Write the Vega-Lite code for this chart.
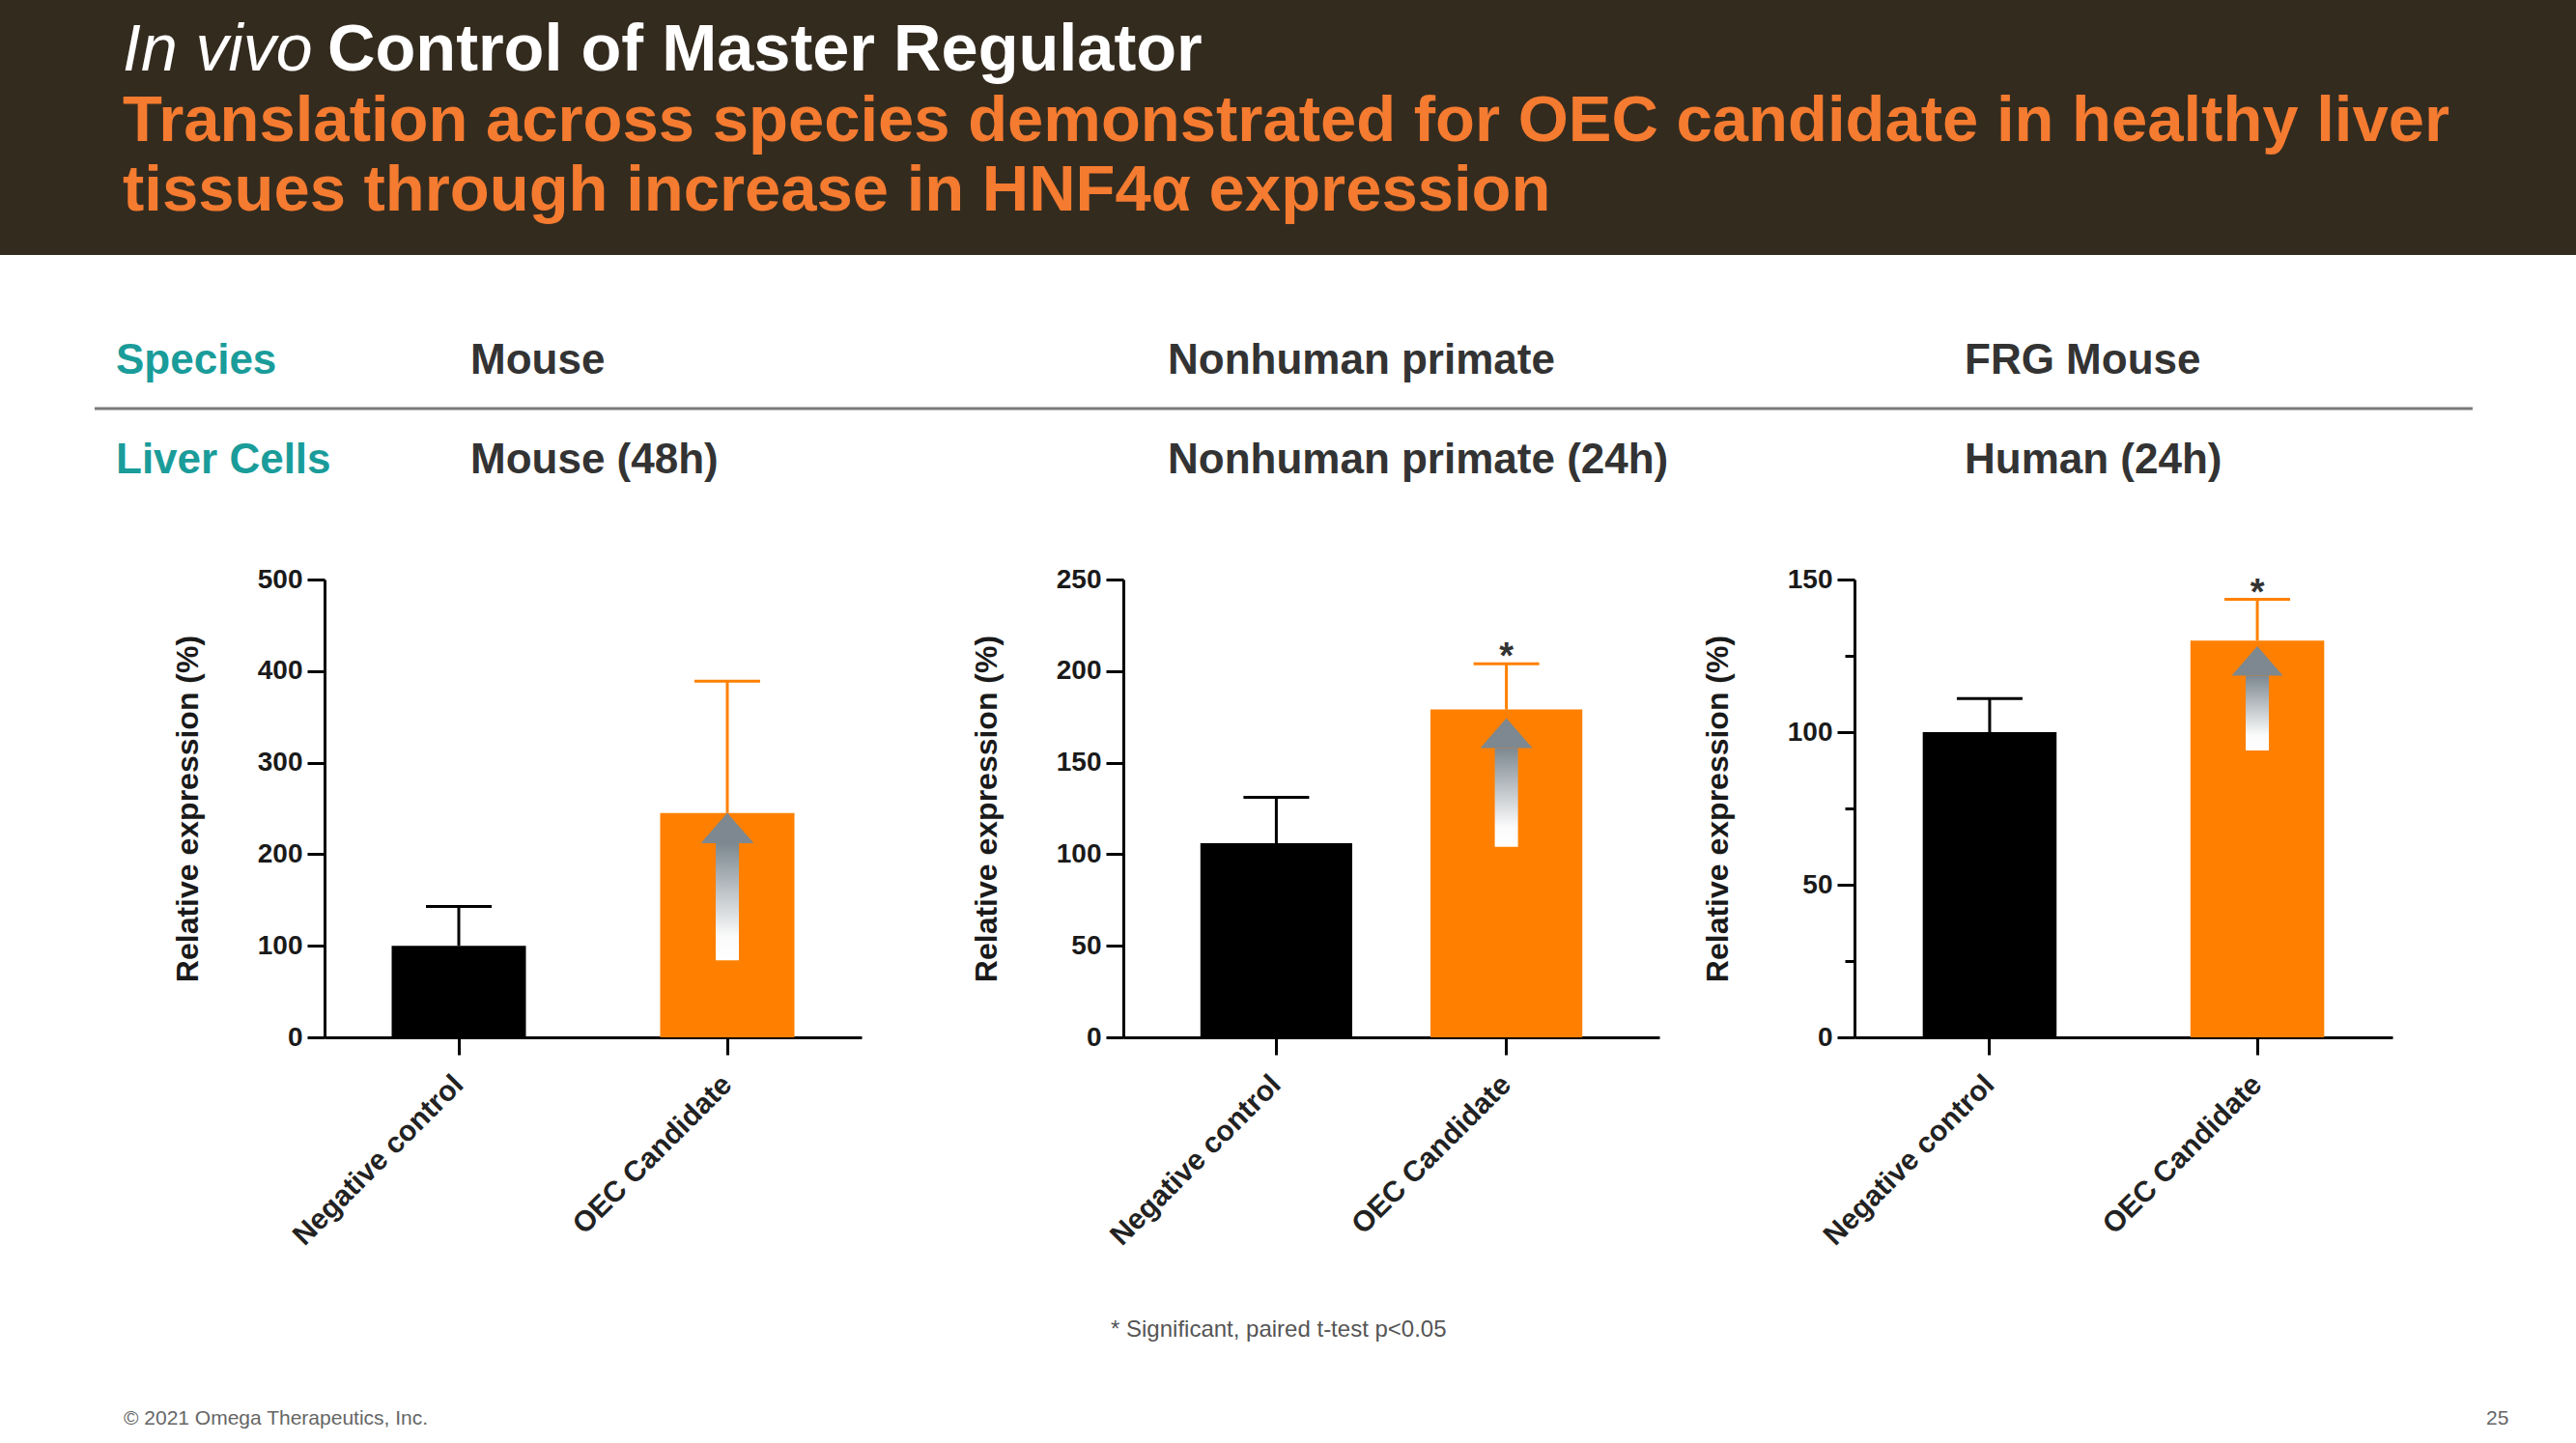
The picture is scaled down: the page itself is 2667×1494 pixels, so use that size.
{
  "$schema": "https://vega.github.io/schema/vega-lite/v6.json",
  "padding": 0,
  "background": "#ffffff",
  "spacing": 0,
  "config": {
    "font": "Liberation Sans",
    "view": {"stroke": null},
    "axis": {
      "domainColor": "#000000", "domainWidth": 3, "tickColor": "#000000", "tickWidth": 3, "tickSize": 18,
      "labelFont": "Liberation Sans", "labelFontWeight": "bold", "labelFontSize": 28, "labelColor": "#1a1a1a", "labelPadding": 5, "labelLimit": 0,
      "titleFont": "Liberation Sans", "titleFontWeight": "bold", "titleFontSize": 32, "titleColor": "#1a1a1a",
      "grid": false
    },
    "axisY": {"titlePadding": 55},
    "axisX": {"labelAngle": -45, "labelFontSize": 30, "labelBaseline": "middle", "labelAlign": "right", "labelPadding": 26, "labelColor": "#222222"}
  },
  "vconcat": [
    {
      "width": 2667, "height": 264,
      "view": {"fill": "#342b1f", "stroke": null},
      "layer": [
        {"data": {"values": [{"t": "In vivo"}]}, "mark": {"type": "text", "x": 127, "y": 73, "align": "left", "baseline": "alphabetic", "fontStyle": "italic", "fontSize": 68, "color": "#ffffff"}, "encoding": {"text": {"field": "t"}}},
        {"data": {"values": [{"t": "Control of Master Regulator"}]}, "mark": {"type": "text", "x": 339, "y": 73, "align": "left", "baseline": "alphabetic", "fontWeight": "bold", "fontSize": 68.5, "color": "#ffffff"}, "encoding": {"text": {"field": "t"}}},
        {"data": {"values": [{"t": "Translation across species demonstrated for OEC candidate in healthy liver"}]}, "mark": {"type": "text", "x": 127, "y": 146, "align": "left", "baseline": "alphabetic", "fontWeight": "bold", "fontSize": 67, "color": "#f47b30"}, "encoding": {"text": {"field": "t"}}},
        {"data": {"values": [{"t": "tissues through increase in HNF4α expression"}]}, "mark": {"type": "text", "x": 127, "y": 218, "align": "left", "baseline": "alphabetic", "fontWeight": "bold", "fontSize": 67, "color": "#f47b30"}, "encoding": {"text": {"field": "t"}}}
      ]
    },
    {
      "width": 2667, "height": 322,
      "layer": [
        {"data": {"values": [{}]}, "mark": {"type": "rule", "color": "#7a7a7a", "strokeWidth": 3}, "encoding": {"x": {"value": 98}, "x2": {"value": 2560}, "y": {"value": 159}}},
        {"data": {"values": [{"t": "Species"}]}, "mark": {"type": "text", "x": 120, "y": 123, "align": "left", "baseline": "alphabetic", "fontWeight": "bold", "fontSize": 44, "color": "#1a9c9a"}, "encoding": {"text": {"field": "t"}}},
        {"data": {"values": [{"t": "Liver Cells"}]}, "mark": {"type": "text", "x": 120, "y": 226, "align": "left", "baseline": "alphabetic", "fontWeight": "bold", "fontSize": 44, "color": "#1a9c9a"}, "encoding": {"text": {"field": "t"}}},
        {"data": {"values": [{"t": "Mouse"}]}, "mark": {"type": "text", "x": 487, "y": 123, "align": "left", "baseline": "alphabetic", "fontWeight": "bold", "fontSize": 44, "color": "#333333"}, "encoding": {"text": {"field": "t"}}},
        {"data": {"values": [{"t": "Mouse (48h)"}]}, "mark": {"type": "text", "x": 487, "y": 226, "align": "left", "baseline": "alphabetic", "fontWeight": "bold", "fontSize": 44, "color": "#333333"}, "encoding": {"text": {"field": "t"}}},
        {"data": {"values": [{"t": "Nonhuman primate"}]}, "mark": {"type": "text", "x": 1209, "y": 123, "align": "left", "baseline": "alphabetic", "fontWeight": "bold", "fontSize": 44, "color": "#333333"}, "encoding": {"text": {"field": "t"}}},
        {"data": {"values": [{"t": "Nonhuman primate (24h)"}]}, "mark": {"type": "text", "x": 1209, "y": 226, "align": "left", "baseline": "alphabetic", "fontWeight": "bold", "fontSize": 44, "color": "#333333"}, "encoding": {"text": {"field": "t"}}},
        {"data": {"values": [{"t": "FRG Mouse"}]}, "mark": {"type": "text", "x": 2034, "y": 123, "align": "left", "baseline": "alphabetic", "fontWeight": "bold", "fontSize": 44, "color": "#333333"}, "encoding": {"text": {"field": "t"}}},
        {"data": {"values": [{"t": "Human (24h)"}]}, "mark": {"type": "text", "x": 2034, "y": 226, "align": "left", "baseline": "alphabetic", "fontWeight": "bold", "fontSize": 44, "color": "#333333"}, "encoding": {"text": {"field": "t"}}}
      ]
    },
    {
      "spacing": 44,
      "hconcat": [
        {
          "spacing": 113,
          "hconcat": [
            {"width": 65, "height": 474, "data": {"values": []}, "mark": {"type": "point", "opacity": 0}},
            {
              "width": 556, "height": 474,
              "data": {"values": [
                {"group": "Negative control", "value": 100, "err": 143},
                {"group": "OEC Candidate", "value": 245, "err": 389, "arrowLow": 84, "arrowHead": 212}
              ]},
              "layer": [
                {"mark": {"type": "bar"}, "encoding": {
                  "x": {"field": "group", "type": "nominal", "scale": {"domain": ["Negative control", "OEC Candidate"], "paddingInner": 0.5, "paddingOuter": 0.25}, "axis": {"title": null}},
                  "y": {"field": "value", "type": "quantitative", "title": "Relative expression (%)", "scale": {"domain": [0, 500], "nice": false}, "axis": {"values": [0, 100, 200, 300, 400, 500]}},
                  "color": {"field": "group", "type": "nominal", "scale": {"domain": ["Negative control", "OEC Candidate"], "range": ["#000000", "#ff8000"]}, "legend": null}}},
                {"mark": {"type": "rule", "strokeWidth": 3}, "encoding": {
                  "x": {"field": "group", "type": "nominal"},
                  "y": {"field": "value", "type": "quantitative", "title": "Relative expression (%)"}, "y2": {"field": "err"},
                  "color": {"field": "group", "type": "nominal", "legend": null}}},
                {"mark": {"type": "tick", "size": 68, "thickness": 3, "opacity": 1}, "encoding": {
                  "x": {"field": "group", "type": "nominal"},
                  "y": {"field": "err", "type": "quantitative", "title": "Relative expression (%)"},
                  "color": {"field": "group", "type": "nominal", "legend": null}}},
                {"transform": [{"filter": "isValid(datum.arrowLow)"}], "mark": {"type": "bar", "width": 24, "fill": {"gradient": "linear", "x1": 0, "y1": 0, "x2": 0, "y2": 1, "stops": [{"offset": 0, "color": "#7c8890"}, {"offset": 0.8, "color": "#fbfbfb"}, {"offset": 1, "color": "#ffffff"}]}}, "encoding": {
                  "x": {"field": "group", "type": "nominal"},
                  "y": {"field": "arrowLow", "type": "quantitative", "title": "Relative expression (%)"}, "y2": {"field": "arrowHead"}}},
                {"transform": [{"filter": "isValid(datum.arrowHead)"}], "mark": {"type": "point", "shape": "M-1,0L0,-1.15L1,0Z", "size": 3000, "filled": true, "color": "#7d8890", "opacity": 1, "strokeWidth": 0}, "encoding": {
                  "x": {"field": "group", "type": "nominal"},
                  "y": {"field": "arrowHead", "type": "quantitative", "title": "Relative expression (%)"}}}
              ]
            },
            {
              "width": 555, "height": 474,
              "data": {"values": [
                {"group": "Negative control", "value": 106, "err": 131},
                {"group": "OEC Candidate", "value": 179, "err": 204, "arrowLow": 104, "arrowHead": 158, "sig": "*"}
              ]},
              "layer": [
                {"mark": {"type": "bar"}, "encoding": {
                  "x": {"field": "group", "type": "nominal", "scale": {"domain": ["Negative control", "OEC Candidate"], "paddingInner": 0.34, "paddingOuter": 0.335}, "axis": {"title": null}},
                  "y": {"field": "value", "type": "quantitative", "title": "Relative expression (%)", "scale": {"domain": [0, 250], "nice": false}, "axis": {"values": [0, 50, 100, 150, 200, 250]}},
                  "color": {"field": "group", "type": "nominal", "scale": {"domain": ["Negative control", "OEC Candidate"], "range": ["#000000", "#ff8000"]}, "legend": null}}},
                {"mark": {"type": "rule", "strokeWidth": 3}, "encoding": {
                  "x": {"field": "group", "type": "nominal"},
                  "y": {"field": "value", "type": "quantitative", "title": "Relative expression (%)"}, "y2": {"field": "err"},
                  "color": {"field": "group", "type": "nominal", "legend": null}}},
                {"mark": {"type": "tick", "size": 68, "thickness": 3, "opacity": 1}, "encoding": {
                  "x": {"field": "group", "type": "nominal"},
                  "y": {"field": "err", "type": "quantitative", "title": "Relative expression (%)"},
                  "color": {"field": "group", "type": "nominal", "legend": null}}},
                {"transform": [{"filter": "isValid(datum.arrowLow)"}], "mark": {"type": "bar", "width": 24, "fill": {"gradient": "linear", "x1": 0, "y1": 0, "x2": 0, "y2": 1, "stops": [{"offset": 0, "color": "#7c8890"}, {"offset": 0.8, "color": "#fbfbfb"}, {"offset": 1, "color": "#ffffff"}]}}, "encoding": {
                  "x": {"field": "group", "type": "nominal"},
                  "y": {"field": "arrowLow", "type": "quantitative", "title": "Relative expression (%)"}, "y2": {"field": "arrowHead"}}},
                {"transform": [{"filter": "isValid(datum.arrowHead)"}], "mark": {"type": "point", "shape": "M-1,0L0,-1.15L1,0Z", "size": 2900, "filled": true, "color": "#7d8890", "opacity": 1, "strokeWidth": 0}, "encoding": {
                  "x": {"field": "group", "type": "nominal"},
                  "y": {"field": "arrowHead", "type": "quantitative", "title": "Relative expression (%)"}}},
                {"transform": [{"filter": "isValid(datum.sig)"}], "mark": {"type": "text", "fontSize": 38, "fontWeight": "bold", "color": "#333333", "baseline": "alphabetic", "dy": 5}, "encoding": {
                  "x": {"field": "group", "type": "nominal"},
                  "y": {"field": "err", "type": "quantitative", "title": "Relative expression (%)"},
                  "text": {"field": "sig"}}}
              ]
            }
          ]
        },
        {
          "width": 557, "height": 474,
          "data": {"values": [
            {"group": "Negative control", "value": 100, "err": 111},
            {"group": "OEC Candidate", "value": 130, "err": 143.5, "arrowLow": 94, "arrowHead": 118.5, "sig": "*"}
          ]},
          "resolve": {"axis": {"y": "independent"}},
          "layer": [
            {
              "layer": [
                {"mark": {"type": "bar"}, "encoding": {
                  "x": {"field": "group", "type": "nominal", "scale": {"domain": ["Negative control", "OEC Candidate"], "paddingInner": 0.5, "paddingOuter": 0.255}, "axis": {"title": null}},
                  "y": {"field": "value", "type": "quantitative", "title": "Relative expression (%)", "scale": {"domain": [0, 150], "nice": false}, "axis": {"values": [0, 50, 100, 150]}},
                  "color": {"field": "group", "type": "nominal", "scale": {"domain": ["Negative control", "OEC Candidate"], "range": ["#000000", "#ff8000"]}, "legend": null}}},
                {"mark": {"type": "rule", "strokeWidth": 3}, "encoding": {
                  "x": {"field": "group", "type": "nominal"},
                  "y": {"field": "value", "type": "quantitative", "title": "Relative expression (%)"}, "y2": {"field": "err"},
                  "color": {"field": "group", "type": "nominal", "legend": null}}},
                {"mark": {"type": "tick", "size": 68, "thickness": 3, "opacity": 1}, "encoding": {
                  "x": {"field": "group", "type": "nominal"},
                  "y": {"field": "err", "type": "quantitative", "title": "Relative expression (%)"},
                  "color": {"field": "group", "type": "nominal", "legend": null}}},
                {"transform": [{"filter": "isValid(datum.arrowLow)"}], "mark": {"type": "bar", "width": 24, "fill": {"gradient": "linear", "x1": 0, "y1": 0, "x2": 0, "y2": 1, "stops": [{"offset": 0, "color": "#7c8890"}, {"offset": 0.8, "color": "#fbfbfb"}, {"offset": 1, "color": "#ffffff"}]}}, "encoding": {
                  "x": {"field": "group", "type": "nominal"},
                  "y": {"field": "arrowLow", "type": "quantitative", "title": "Relative expression (%)"}, "y2": {"field": "arrowHead"}}},
                {"transform": [{"filter": "isValid(datum.arrowHead)"}], "mark": {"type": "point", "shape": "M-1,0L0,-1.15L1,0Z", "size": 2800, "filled": true, "color": "#7d8890", "opacity": 1, "strokeWidth": 0}, "encoding": {
                  "x": {"field": "group", "type": "nominal"},
                  "y": {"field": "arrowHead", "type": "quantitative", "title": "Relative expression (%)"}}},
                {"transform": [{"filter": "isValid(datum.sig)"}], "mark": {"type": "text", "fontSize": 38, "fontWeight": "bold", "color": "#333333", "baseline": "alphabetic", "dy": 5}, "encoding": {
                  "x": {"field": "group", "type": "nominal"},
                  "y": {"field": "err", "type": "quantitative", "title": "Relative expression (%)"},
                  "text": {"field": "sig"}}}
              ]
            },
            {"mark": {"type": "point", "opacity": 0}, "encoding": {
              "y": {"field": "value", "type": "quantitative", "axis": {"values": [25, 75, 125], "labels": false, "domain": false, "tickSize": 10, "title": null, "orient": "left"}}}}
          ]
        }
      ]
    },
    {
      "width": 2667, "height": 199,
      "layer": [
        {"data": {"values": [{"t": "* Significant, paired t-test p<0.05"}]}, "mark": {"type": "text", "x": 1150, "y": 89, "align": "left", "baseline": "alphabetic", "fontSize": 24, "color": "#555555"}, "encoding": {"text": {"field": "t"}}},
        {"data": {"values": [{"t": "© 2021 Omega Therapeutics, Inc."}]}, "mark": {"type": "text", "x": 128, "y": 180, "align": "left", "baseline": "alphabetic", "fontSize": 21, "color": "#666666"}, "encoding": {"text": {"field": "t"}}},
        {"data": {"values": [{"t": "25"}]}, "mark": {"type": "text", "x": 2574, "y": 180, "align": "left", "baseline": "alphabetic", "fontSize": 21, "color": "#666666"}, "encoding": {"text": {"field": "t"}}}
      ]
    }
  ]
}
